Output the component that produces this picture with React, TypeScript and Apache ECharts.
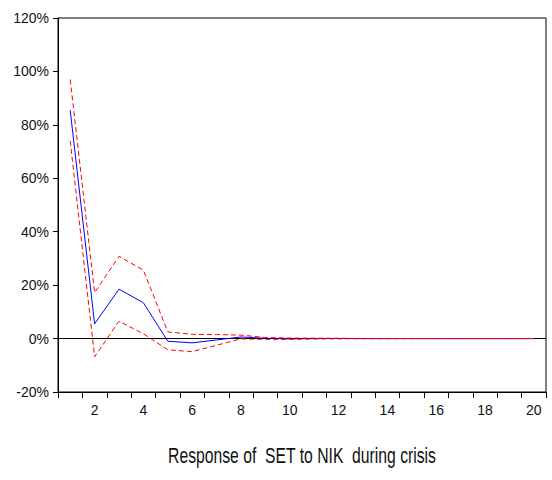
import React, { useEffect, useRef } from "react";
import * as echarts from "echarts";

const periods = Array.from({ length: 20 }, (_, i) => String(i + 1));
const response = [85.5, 5.5, 18.5, 13.4, -1.0, -1.6, -0.5, 0.6, 0.1, -0.1, 0.0, 0.05, 0, 0, 0, 0, 0, 0, 0, 0];
const upperBand = [97, 17.2, 30.8, 25.6, 2.5, 1.6, 1.5, 1.3, 0.4, 0.2, 0.15, 0.1, 0.05, 0.03, 0.02, 0.01, 0, 0, 0, 0];
const lowerBand = [74, -6.8, 6.5, 1.8, -4.2, -4.9, -2.5, -0.1, -0.3, -0.3, -0.15, -0.1, -0.05, -0.03, -0.02, -0.01, 0, 0, 0, 0];
const yTicks = { min: -20, max: 120, interval: 20 };
const caption = "Response of  SET to NIK  during crisis";

const FONT = "'Liberation Sans', Arial, sans-serif";

export default function App() {
  const ref = useRef<HTMLDivElement>(null);
  useEffect(() => {
    if (!ref.current) return;
    const chart = echarts.init(ref.current, undefined, { renderer: "svg" });
    chart.setOption({
      animation: false,
      backgroundColor: "#ffffff",
      grid: { left: 58, right: 6, top: 18, bottom: 88, show: true, borderColor: "#000", borderWidth: 1, backgroundColor: "transparent" },
      xAxis: {
        type: "category",
        data: periods,
        boundaryGap: true,
        axisLine: { onZero: false, lineStyle: { color: "#000", width: 1 } },
        axisTick: { show: true, interval: 0, length: 6, lineStyle: { color: "#000" } },
        axisLabel: {
          interval: (i: number) => i % 2 === 1,
          margin: 11,
          fontSize: 14,
          color: "#111",
          fontFamily: FONT,
        },
        splitLine: { show: false },
      },
      yAxis: {
        type: "value",
        min: yTicks.min,
        max: yTicks.max,
        interval: yTicks.interval,
        axisLine: { show: true, onZero: false, lineStyle: { color: "#000", width: 1 } },
        axisTick: { show: true, length: 5, lineStyle: { color: "#000" } },
        axisLabel: { formatter: "{value}%", fontSize: 14, color: "#111", fontFamily: FONT, margin: 9 },
        splitLine: { show: false },
      },
      graphic: [
        {
          type: "text",
          x: 302,
          y: 456,
          scaleX: 0.715,
          style: {
            text: caption,
            fontSize: 22,
            fontFamily: FONT,
            fill: "#111",
            textAlign: "center",
            textVerticalAlign: "middle",
          },
        },
      ],
      series: [
        {
          type: "line",
          data: upperBand,
          symbol: "none",
          lineStyle: { color: "#ff0000", width: 1, type: [5, 3] },
          z: 3,
        },
        {
          type: "line",
          data: lowerBand,
          symbol: "none",
          lineStyle: { color: "#ff0000", width: 1, type: [5, 3] },
          z: 3,
        },
        {
          type: "line",
          data: response,
          symbol: "none",
          lineStyle: { color: "#0000ff", width: 1 },
          z: 2,
          markLine: {
            silent: true,
            symbol: "none",
            label: { show: false },
            lineStyle: { color: "#000", width: 1, type: "solid" },
            data: [{ yAxis: 0 }],
            z: 1,
          },
        },
      ],
    });
    return () => chart.dispose();
  }, []);
  return <div ref={ref} style={{ position: "fixed", left: 0, top: 0, width: 552, height: 480 }} />;
}
